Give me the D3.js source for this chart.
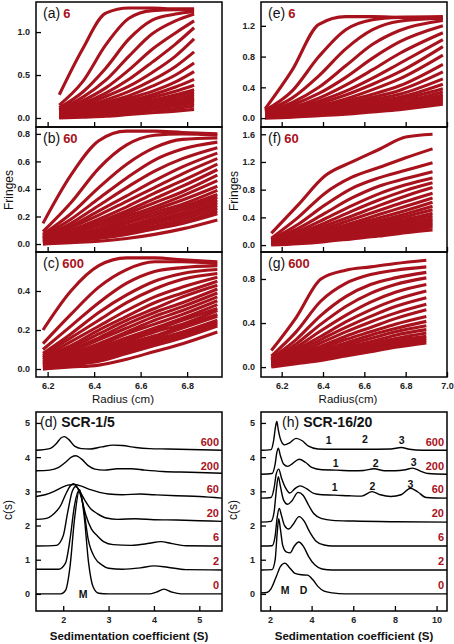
<!DOCTYPE html>
<html><head><meta charset="utf-8">
<script src="https://cdn.jsdelivr.net/npm/d3@7"></script>
<style>
body{margin:0;background:#fff;}
svg{display:block;font-family:"Liberation Sans",Arial,sans-serif;}
</style></head>
<body><svg id="chart" width="454" height="644"></svg>
<script>
// ---------------- DATA ----------------
// Radius sample positions (cm) for each fringe panel
const radiusA = [6.25, 6.35, 6.45, 6.55, 6.65, 6.75, 6.83];
const radiusB = [6.18, 6.30, 6.42, 6.54, 6.66, 6.78, 6.93];
const radiusC = [6.18, 6.30, 6.42, 6.54, 6.66, 6.78, 6.93];
const radiusE = [6.12, 6.25, 6.38, 6.51, 6.64, 6.77, 6.98];
const radiusF = [6.15, 6.28, 6.41, 6.54, 6.67, 6.80, 6.93];
const radiusG = [6.15, 6.27, 6.39, 6.51, 6.63, 6.75, 6.90];

// Fringe scans (one row per scan)
const fringesA = [
  [0.27,0.80,1.22,1.28,1.28,1.27,1.27],
  [0.15,0.42,0.85,1.16,1.25,1.26,1.26],
  [0.12,0.30,0.58,0.92,1.14,1.21,1.24],
  [0.10,0.24,0.44,0.72,0.98,1.13,1.21],
  [0.09,0.20,0.35,0.56,0.80,0.99,1.13],
  [0.08,0.17,0.29,0.45,0.65,0.86,1.05],
  [0.07,0.15,0.25,0.37,0.53,0.72,0.92],
  [0.06,0.13,0.21,0.31,0.44,0.60,0.77],
  [0.05,0.11,0.18,0.26,0.37,0.50,0.64],
  [0.05,0.10,0.16,0.23,0.31,0.42,0.54],
  [0.04,0.09,0.14,0.20,0.27,0.36,0.45],
  [0.04,0.08,0.12,0.18,0.24,0.31,0.38],
  [0.03,0.07,0.11,0.16,0.21,0.27,0.33],
  [0.03,0.06,0.10,0.14,0.19,0.25,0.30],
  [0.02,0.05,0.09,0.13,0.17,0.22,0.27],
  [0.02,0.05,0.08,0.12,0.16,0.20,0.24],
  [0.02,0.04,0.07,0.10,0.14,0.18,0.22],
  [0.01,0.04,0.06,0.09,0.12,0.16,0.20],
  [0.01,0.03,0.05,0.08,0.11,0.14,0.17],
  [0.01,0.02,0.04,0.06,0.09,0.11,0.14],
  [0.00,0.01,0.02,0.04,0.06,0.08,0.10]
];
const fringesB = [
  [0.15,0.50,0.75,0.82,0.82,0.81,0.80],
  [0.09,0.30,0.55,0.72,0.79,0.80,0.79],
  [0.07,0.22,0.41,0.58,0.70,0.76,0.77],
  [0.06,0.18,0.33,0.48,0.61,0.69,0.74],
  [0.05,0.15,0.28,0.41,0.53,0.62,0.70],
  [0.05,0.13,0.24,0.35,0.46,0.56,0.66],
  [0.04,0.12,0.21,0.31,0.41,0.51,0.62],
  [0.04,0.10,0.18,0.27,0.37,0.46,0.58],
  [0.04,0.09,0.16,0.24,0.33,0.42,0.54],
  [0.03,0.08,0.14,0.22,0.30,0.38,0.50],
  [0.03,0.07,0.13,0.20,0.27,0.35,0.46],
  [0.03,0.06,0.11,0.18,0.25,0.32,0.42],
  [0.02,0.06,0.10,0.16,0.23,0.29,0.39],
  [0.02,0.05,0.09,0.15,0.21,0.27,0.36],
  [0.02,0.05,0.08,0.13,0.19,0.25,0.34],
  [0.02,0.04,0.08,0.12,0.17,0.23,0.32],
  [0.01,0.04,0.07,0.11,0.16,0.21,0.30],
  [0.01,0.03,0.06,0.10,0.15,0.20,0.28],
  [0.01,0.03,0.05,0.09,0.13,0.18,0.26],
  [0.01,0.02,0.05,0.08,0.12,0.16,0.24],
  [0.00,0.02,0.04,0.07,0.11,0.15,0.22],
  [0.00,0.01,0.02,0.04,0.07,0.11,0.175]
];
const fringesC = [
  [0.20,0.40,0.53,0.57,0.57,0.56,0.55],
  [0.13,0.28,0.42,0.51,0.55,0.55,0.54],
  [0.10,0.22,0.34,0.44,0.50,0.52,0.53],
  [0.08,0.18,0.29,0.38,0.45,0.49,0.51],
  [0.07,0.16,0.25,0.34,0.41,0.46,0.49],
  [0.06,0.14,0.22,0.30,0.37,0.42,0.47],
  [0.06,0.12,0.20,0.27,0.34,0.39,0.45],
  [0.05,0.11,0.18,0.25,0.31,0.37,0.43],
  [0.05,0.10,0.16,0.23,0.29,0.34,0.41],
  [0.04,0.09,0.15,0.21,0.27,0.32,0.39],
  [0.04,0.08,0.13,0.19,0.25,0.30,0.37],
  [0.03,0.07,0.12,0.18,0.23,0.28,0.35],
  [0.03,0.07,0.11,0.16,0.21,0.26,0.33],
  [0.03,0.06,0.10,0.15,0.20,0.25,0.31],
  [0.02,0.05,0.09,0.14,0.19,0.23,0.30],
  [0.02,0.05,0.08,0.13,0.17,0.22,0.28],
  [0.02,0.04,0.08,0.12,0.16,0.21,0.27],
  [0.01,0.04,0.07,0.11,0.15,0.19,0.25],
  [0.01,0.03,0.06,0.10,0.14,0.18,0.24],
  [0.01,0.03,0.05,0.09,0.13,0.17,0.23],
  [0.00,0.02,0.04,0.08,0.12,0.16,0.22],
  [0.00,0.01,0.02,0.05,0.09,0.13,0.19]
];
const fringesE = [
  [0.12,0.62,1.22,1.32,1.32,1.31,1.30],
  [0.10,0.35,0.80,1.15,1.28,1.31,1.32],
  [0.09,0.26,0.55,0.90,1.15,1.26,1.30],
  [0.08,0.20,0.40,0.68,0.96,1.14,1.27],
  [0.07,0.17,0.32,0.53,0.78,0.99,1.20],
  [0.06,0.14,0.26,0.43,0.63,0.84,1.11],
  [0.06,0.12,0.22,0.35,0.52,0.71,1.02],
  [0.05,0.11,0.19,0.30,0.44,0.60,0.93],
  [0.05,0.10,0.16,0.25,0.37,0.51,0.82],
  [0.04,0.08,0.14,0.22,0.31,0.42,0.70],
  [0.04,0.08,0.13,0.19,0.27,0.36,0.60],
  [0.03,0.07,0.11,0.17,0.24,0.31,0.51],
  [0.03,0.06,0.10,0.15,0.21,0.27,0.44],
  [0.03,0.06,0.09,0.13,0.18,0.24,0.38],
  [0.02,0.05,0.08,0.12,0.16,0.21,0.34],
  [0.02,0.04,0.07,0.11,0.15,0.19,0.30],
  [0.02,0.04,0.06,0.10,0.13,0.17,0.27],
  [0.01,0.03,0.05,0.08,0.12,0.15,0.24],
  [0.01,0.02,0.04,0.07,0.10,0.13,0.21],
  [0.00,0.01,0.03,0.05,0.08,0.11,0.18]
];
const fringesF = [
  [0.17,0.58,1.00,1.20,1.38,1.56,1.60],
  [0.10,0.40,0.75,0.98,1.12,1.26,1.39],
  [0.08,0.30,0.58,0.82,0.97,1.08,1.19],
  [0.07,0.24,0.46,0.68,0.85,0.96,1.06],
  [0.06,0.20,0.38,0.57,0.74,0.87,0.97],
  [0.06,0.17,0.32,0.49,0.65,0.79,0.90],
  [0.05,0.15,0.28,0.42,0.57,0.71,0.83],
  [0.05,0.13,0.24,0.37,0.50,0.63,0.75],
  [0.04,0.12,0.21,0.32,0.44,0.56,0.68],
  [0.04,0.10,0.19,0.29,0.39,0.50,0.62],
  [0.04,0.09,0.17,0.26,0.35,0.45,0.56],
  [0.03,0.08,0.15,0.23,0.32,0.41,0.51],
  [0.03,0.08,0.14,0.21,0.29,0.37,0.46],
  [0.03,0.07,0.12,0.19,0.26,0.34,0.42],
  [0.02,0.06,0.11,0.17,0.24,0.31,0.38],
  [0.02,0.06,0.10,0.16,0.22,0.29,0.35],
  [0.02,0.05,0.09,0.14,0.20,0.26,0.32],
  [0.01,0.04,0.08,0.13,0.18,0.24,0.29],
  [0.01,0.03,0.07,0.11,0.16,0.21,0.26],
  [0.00,0.02,0.05,0.09,0.13,0.18,0.22]
];
const fringesG = [
  [0.15,0.45,0.80,0.88,0.91,0.94,0.97],
  [0.10,0.32,0.60,0.76,0.84,0.88,0.91],
  [0.08,0.25,0.47,0.64,0.75,0.81,0.86],
  [0.07,0.21,0.39,0.55,0.67,0.75,0.81],
  [0.06,0.18,0.33,0.47,0.59,0.68,0.75],
  [0.06,0.16,0.28,0.41,0.52,0.61,0.69],
  [0.05,0.14,0.25,0.36,0.46,0.55,0.63],
  [0.05,0.12,0.22,0.32,0.41,0.49,0.57],
  [0.04,0.11,0.19,0.28,0.36,0.44,0.52],
  [0.04,0.10,0.17,0.25,0.32,0.39,0.46],
  [0.04,0.09,0.15,0.22,0.29,0.35,0.415],
  [0.03,0.08,0.14,0.20,0.26,0.32,0.375],
  [0.03,0.07,0.12,0.18,0.23,0.29,0.34],
  [0.02,0.06,0.11,0.16,0.21,0.26,0.31],
  [0.02,0.05,0.10,0.14,0.19,0.24,0.28],
  [0.02,0.05,0.09,0.13,0.17,0.22,0.26],
  [0.01,0.04,0.08,0.12,0.16,0.20,0.24],
  [0.00,0.03,0.06,0.10,0.14,0.18,0.22]
];

// c(s) distributions: concentration labels, baseline offsets and [S, c(s)] points
const concLabels = ["0", "2", "6", "20", "60", "200", "600"];
const concOffsets = [0, 0.7, 1.4, 2.1, 2.8, 3.5, 4.2];
const csD = [
  [[1.4,0],[1.95,0],[2.05,0.1],[2.15,0.8],[2.25,2.2],[2.36,3.05],[2.46,2.3],[2.56,0.9],[2.66,0.2],[2.78,0.02],[3.0,0],[3.9,0],[4.05,0.05],[4.22,0.14],[4.4,0.05],[4.6,0],[5.5,0]],
  [[1.4,0.02],[1.9,0.02],[2.05,0.2],[2.15,0.9],[2.25,1.9],[2.35,2.33],[2.45,1.8],[2.55,0.9],[2.7,0.35],[2.85,0.15],[3.0,0.05],[3.3,0.02],[3.7,0.06],[4.0,0.12],[4.3,0.08],[4.7,0.01],[5.5,0]],
  [[1.4,0],[1.85,0.02],[2.0,0.3],[2.1,1.0],[2.2,1.6],[2.28,1.74],[2.38,1.5],[2.5,0.9],[2.62,0.5],[2.75,0.3],[2.9,0.12],[3.1,0.04],[3.5,0.02],[3.9,0.08],[4.15,0.13],[4.4,0.07],[4.7,0.01],[5.5,0]],
  [[1.4,0.08],[1.6,0.1],[1.8,0.25],[1.95,0.5],[2.05,0.8],[2.15,1.05],[2.22,1.12],[2.32,1.0],[2.45,0.7],[2.6,0.4],[2.75,0.25],[2.95,0.12],[3.2,0.08],[3.6,0.1],[4.0,0.07],[4.5,0.06],[5.0,0.04],[5.5,0.02]],
  [[1.4,0.05],[1.6,0.1],[1.8,0.2],[1.95,0.3],[2.1,0.38],[2.25,0.4],[2.4,0.35],[2.6,0.25],[2.8,0.17],[3.0,0.12],[3.3,0.1],[3.7,0.12],[4.0,0.1],[4.5,0.07],[5.0,0.05],[5.5,0.0]],
  [[1.4,0.1],[1.7,0.12],[1.9,0.2],[2.05,0.35],[2.18,0.5],[2.28,0.54],[2.4,0.45],[2.55,0.25],[2.7,0.15],[2.9,0.12],[3.2,0.16],[3.5,0.16],[3.8,0.12],[4.2,0.08],[4.8,0.06],[5.5,0.03]],
  [[1.4,0.0],[1.7,0.05],[1.85,0.2],[1.95,0.36],[2.02,0.4],[2.12,0.32],[2.25,0.12],[2.4,0.05],[2.6,0.04],[2.85,0.1],[3.1,0.15],[3.3,0.14],[3.6,0.08],[3.9,0.05],[4.3,0.04],[5.5,0.0]]
];
const csH = [
  [[1.57,0.03],[1.85,0.04],[2.05,0.15],[2.3,0.5],[2.5,0.8],[2.72,0.9],[2.95,0.76],[3.2,0.6],[3.5,0.56],[3.8,0.55],[4.05,0.42],[4.3,0.22],[4.6,0.08],[5.0,0.03],[5.6,0.0],[10.5,0]],
  [[1.57,0],[2.1,0.01],[2.25,0.3],[2.35,1.1],[2.42,1.5],[2.5,1.2],[2.62,0.7],[2.8,0.52],[2.97,0.5],[3.15,0.68],[3.38,0.82],[3.6,0.7],[3.85,0.4],[4.15,0.15],[4.5,0.03],[5.0,0],[10.5,0]],
  [[1.57,0],[2.1,0.01],[2.25,0.3],[2.35,0.85],[2.45,1.1],[2.55,0.9],[2.7,0.6],[2.9,0.5],[3.1,0.62],[3.4,0.86],[3.65,0.72],[3.9,0.42],[4.2,0.15],[4.6,0.03],[5.0,0],[10.5,0]],
  [[1.57,0],[2.05,0.02],[2.2,0.3],[2.3,0.9],[2.4,1.33],[2.5,1.05],[2.65,0.65],[2.85,0.52],[3.05,0.62],[3.35,0.87],[3.6,0.78],[3.85,0.5],[4.1,0.25],[4.5,0.1],[5.0,0.05],[6.0,0.03],[8.0,0.01],[10.5,0]],
  [[1.57,0],[2.05,0.02],[2.2,0.3],[2.3,0.7],[2.42,0.85],[2.55,0.6],[2.75,0.3],[2.95,0.15],[3.2,0.28],[3.45,0.36],[3.75,0.28],[4.1,0.14],[4.5,0.1],[5.1,0.09],[5.8,0.07],[6.4,0.06],[6.9,0.19],[7.3,0.1],[7.8,0.05],[8.3,0.1],[8.75,0.29],[9.1,0.18],[9.5,0.02],[10.5,0]],
  [[1.57,0],[2.1,0.02],[2.25,0.3],[2.32,0.6],[2.4,0.76],[2.5,0.55],[2.65,0.3],[2.85,0.23],[3.1,0.32],[3.4,0.44],[3.7,0.35],[4.0,0.2],[4.5,0.13],[5.2,0.12],[6.0,0.1],[6.5,0.11],[7.0,0.16],[7.5,0.1],[8.0,0.1],[8.5,0.13],[8.85,0.18],[9.2,0.1],[9.6,0.02],[10.5,0]],
  [[1.57,0],[2.05,0.02],[2.18,0.3],[2.27,0.7],[2.33,0.84],[2.4,0.6],[2.52,0.3],[2.7,0.16],[2.95,0.22],[3.25,0.35],[3.55,0.28],[3.85,0.12],[4.3,0.04],[5.0,0.03],[6.5,0.03],[7.8,0.04],[8.3,0.08],[8.7,0.03],[9.3,0.0],[10.5,0]]
];
// peak annotations: [S, c(s), text]
const annotD = [[2.44, 0.0, "M"]];
const annotH = [[2.73, 0.1, "M"], [3.61, 0.1, "D"],
  [4.82, 4.5, "1"], [6.56, 4.53, "2"], [8.32, 4.5, "3"],
  [5.15, 3.82, "1"], [7.08, 3.82, "2"], [8.9, 3.84, "3"],
  [5.11, 3.12, "1"], [6.92, 3.14, "2"], [8.74, 3.2, "3"]];

// ---------------- DRAW ----------------
const RED = "#a8121c";
const svg = d3.select("#chart");
const FONT = '"Liberation Sans",Arial,sans-serif';

const topPanels = [
  {id:"a", x0:36, x1:222, y0:2,   y1:127, xd:[6.15,6.95], yd:[-0.105,1.35], yt:[0,0.5,1.0], xt:[6.2,6.4,6.6,6.8], xs:radiusA, data:fringesA, lab:"(a)", sp:"6",   xlab:false},
  {id:"b", x0:36, x1:222, y0:127, y1:252, xd:[6.15,6.95], yd:[-0.058,0.85], yt:[0,0.2,0.4,0.6,0.8], xt:[6.2,6.4,6.6,6.8], xs:radiusB, data:fringesB, lab:"(b)", sp:"60", xlab:false},
  {id:"c", x0:36, x1:222, y0:252, y1:377, xd:[6.15,6.95], yd:[-0.041,0.6], yt:[0,0.2,0.4], xt:[6.2,6.4,6.6,6.8], xs:radiusC, data:fringesC, lab:"(c)", sp:"600", xlab:true},
  {id:"e", x0:261, x1:447, y0:2,  y1:127, xd:[6.1,7.0], yd:[-0.116,1.51], yt:[0,0.4,0.8,1.2], xt:[6.2,6.4,6.6,6.8,7.0], xs:radiusE, data:fringesE, lab:"(e)", sp:"6",  xlab:false},
  {id:"f", x0:261, x1:447, y0:127, y1:252, xd:[6.1,7.0], yd:[-0.1,1.705], yt:[0,0.4,0.8,1.2,1.6], xt:[6.2,6.4,6.6,6.8,7.0], xs:radiusF, data:fringesF, lab:"(f)", sp:"60", xlab:false},
  {id:"g", x0:261, x1:447, y0:252, y1:377, xd:[6.1,7.0], yd:[-0.09,1.045], yt:[0,0.4,0.8], xt:[6.2,6.4,6.6,6.8,7.0], xs:radiusG, data:fringesG, lab:"(g)", sp:"600", xlab:true}
];

function styleAxis(g){
  g.select(".domain").remove();
  g.selectAll(".tick line").attr("stroke","#000").attr("stroke-width",1.3);
  g.selectAll(".tick text").attr("font-family",FONT).attr("font-size",9).attr("font-weight","bold").attr("fill","#222");
}

topPanels.forEach(p => {
  const x = d3.scaleLinear().domain(p.xd).range([p.x0,p.x1]);
  const y = d3.scaleLinear().domain(p.yd).range([p.y1,p.y0]);
  const clipId = "clip-"+p.id;
  svg.append("clipPath").attr("id",clipId).append("rect")
    .attr("x",p.x0).attr("y",p.y0).attr("width",p.x1-p.x0).attr("height",p.y1-p.y0);
  const line = d3.line().x((d,i)=>x(p.xs[i])).y(d=>y(d)).curve(d3.curveMonotoneX);
  svg.append("g").attr("clip-path",`url(#${clipId})`)
    .selectAll("path").data(p.data).join("path")
    .attr("d",line).attr("fill","none").attr("stroke",RED).attr("stroke-width",3.1);
  // axes
  svg.append("g").attr("transform",`translate(${p.x0},0)`)
    .call(d3.axisLeft(y).tickValues(p.yt).tickSize(-5).tickPadding(6).tickFormat(d3.format(".1f")))
    .call(styleAxis);
  svg.append("g").attr("transform",`translate(0,${p.y1})`)
    .call(d3.axisBottom(x).tickValues(p.xt).tickSize(-5).tickPadding(6)
      .tickFormat(p.xlab ? d3.format(".1f") : ""))
    .call(styleAxis);
  // frame
  svg.append("rect").attr("x",p.x0).attr("y",p.y0).attr("width",p.x1-p.x0).attr("height",p.y1-p.y0)
    .attr("fill","none").attr("stroke","#000").attr("stroke-width",1.5);
  // label
  const t = svg.append("text").attr("x",p.x0+7).attr("y",p.y0+16).attr("font-family",FONT);
  t.append("tspan").attr("font-size",14).attr("fill","#111").text(p.lab);
  t.append("tspan").attr("dx",3).attr("font-size",13).attr("font-weight","bold").attr("fill",RED).text(p.sp);
});

// Axis titles top
svg.append("text").attr("transform","translate(13,190) rotate(-90)").attr("text-anchor","middle")
  .attr("font-family",FONT).attr("font-size",12).attr("fill","#111").text("Fringes");
svg.append("text").attr("transform","translate(238,191) rotate(-90)").attr("text-anchor","middle")
  .attr("font-family",FONT).attr("font-size",12).attr("fill","#111").text("Fringes");
svg.append("text").attr("x",123).attr("y",403).attr("text-anchor","middle")
  .attr("font-family",FONT).attr("font-size",11.5).attr("font-weight",500).attr("fill","#111").text("Radius (cm)");
svg.append("text").attr("x",348).attr("y",403).attr("text-anchor","middle")
  .attr("font-family",FONT).attr("font-size",11.5).attr("font-weight",500).attr("fill","#111").text("Radius(cm)");

// Bottom c(s) panels
const botPanels = [
  {id:"d", x0:36, x1:222, xd:[1.4,5.5], xt:[2,3,4,5], data:csD, annot:annotD, lab:"(d)", name:"SCR-1/5", labx:40},
  {id:"h", x0:261, x1:447, xd:[1.57,10.5], xt:[2,4,6,8,10], data:csH, annot:annotH, lab:"(h)", name:"SCR-16/20", labx:282}
];
const by0 = 412, by1 = 611;
botPanels.forEach(p => {
  const x = d3.scaleLinear().domain(p.xd).range([p.x0,p.x1]);
  const y = d3.scaleLinear().domain([-0.5,5.32]).range([by1,by0]);
  const clipId = "clip-"+p.id;
  svg.append("clipPath").attr("id",clipId).append("rect")
    .attr("x",p.x0).attr("y",by0).attr("width",p.x1-p.x0).attr("height",by1-by0);
  const g = svg.append("g").attr("clip-path",`url(#${clipId})`);
  p.data.forEach((curve,i) => {
    const line = d3.line().x(d=>x(d[0])).y(d=>y(d[1]+concOffsets[i])).curve(d3.curveMonotoneX);
    g.append("path").attr("d",line(curve)).attr("fill","none").attr("stroke","#000").attr("stroke-width",1.4);
  });
  // concentration labels
  concLabels.forEach((c,i) => {
    svg.append("text").attr("x",p.x1-3).attr("y",y(concOffsets[i]+0.25)).attr("dy","0.35em")
      .attr("text-anchor","end").attr("font-family",FONT).attr("font-size",11).attr("font-weight","bold")
      .attr("fill",RED).text(c);
  });
  p.annot.forEach(a => {
    svg.append("text").attr("x",x(a[0])).attr("y",y(a[1])).attr("dy","0.35em").attr("text-anchor","middle")
      .attr("font-family",FONT).attr("font-size",10.5).attr("font-weight",600).attr("fill","#111").text(a[2]);
  });
  svg.append("g").attr("transform",`translate(${p.x0},0)`)
    .call(d3.axisLeft(y).tickValues([0,1,2,3,4,5]).tickSize(-5).tickPadding(6).tickFormat(d3.format("d")))
    .call(styleAxis);
  svg.append("g").attr("transform",`translate(0,${by1})`)
    .call(d3.axisBottom(x).tickValues(p.xt).tickSize(-5).tickPadding(6).tickFormat(d3.format("d")))
    .call(styleAxis);
  svg.append("rect").attr("x",p.x0).attr("y",by0).attr("width",p.x1-p.x0).attr("height",by1-by0)
    .attr("fill","none").attr("stroke","#000").attr("stroke-width",1.5);
  const t = svg.append("text").attr("x",p.labx).attr("y",by0+15).attr("font-family",FONT).attr("fill","#111");
  t.append("tspan").attr("font-size",14).text(p.lab);
  t.append("tspan").attr("dx",4).attr("font-size",14).attr("font-weight","bold").text(p.name);
  svg.append("text").attr("transform",`translate(${p.x0-24},510) rotate(-90)`).attr("text-anchor","middle")
    .attr("font-family",FONT).attr("font-size",12).attr("fill","#111").text("c(s)");
  svg.append("text").attr("x",(p.x0+p.x1)/2).attr("y",640).attr("text-anchor","middle")
    .attr("font-family",FONT).attr("font-size",11.5).attr("font-weight",600).attr("fill","#111")
    .text("Sedimentation coefficient (S)");
});
</script></body></html>
